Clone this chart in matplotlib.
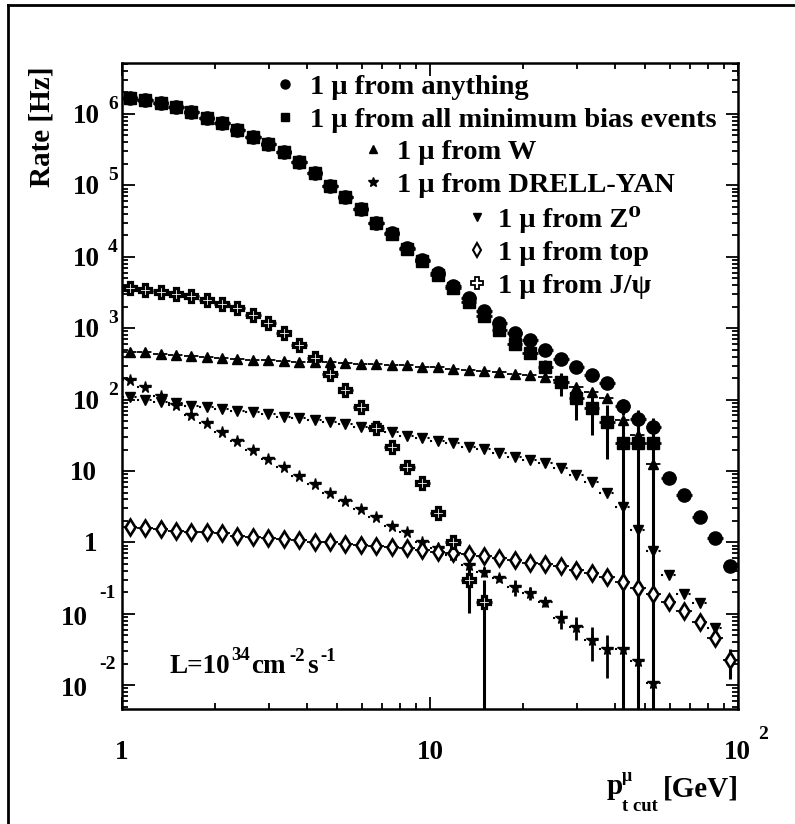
import numpy as np
import matplotlib
matplotlib.use("Agg")
import matplotlib.pyplot as plt
from matplotlib.lines import Line2D
from matplotlib.ticker import FixedLocator, LogLocator, NullFormatter

FIG_W, FIG_H, DPI = 795, 824, 100
SERIF = ["Liberation Serif", "DejaVu Serif"]
plt.rcParams["font.family"] = SERIF
plt.rcParams["font.weight"] = "bold"

# ---------------------------------------------------------------- data
# muon pT threshold bins (20 per decade), bin centres in GeV
pt_centres = [1.059, 1.189, 1.334, 1.496, 1.679, 1.884, 2.113, 2.371, 2.661, 2.985,
              3.350, 3.758, 4.217, 4.732, 5.309, 5.957, 6.683, 7.499, 8.414, 9.441,
              10.59, 11.89, 13.34, 14.96, 16.79, 18.84, 21.13, 23.71, 26.61, 29.85,
              33.50, 37.58, 42.17, 47.32, 53.09, 59.57, 66.83, 74.99, 84.14, 94.41]
BIN_HALF_RATIO = 10 ** 0.025

# integrated single-muon rates [Hz] above the threshold
rate_anything = [1.66e6, 1.58e6, 1.41e6, 1.26e6, 1.05e6, 8.7e5, 7.4e5, 6.0e5, 4.7e5, 3.8e5,
                 2.95e5, 2.14e5, 1.48e5, 9.8e4, 6.8e4, 4.6e4, 3.0e4, 2.14e4, 1.32e4, 9.1e3,
                 5.9e3, 3.9e3, 2.63e3, 1.74e3, 1.17e3, 850, 676, 490, 372, 282,
                 224, 170, 81, 54, 42, 7.9, 4.6, 2.3, 1.15, 0.46]
rate_minbias = [1.66e6, 1.58e6, 1.41e6, 1.26e6, 1.05e6, 8.7e5, 7.4e5, 6.0e5, 4.7e5, 3.8e5,
                2.95e5, 2.14e5, 1.48e5, 9.8e4, 6.8e4, 4.6e4, 2.96e4, 2.10e4, 1.285e4, 8.78e3,
                5.59e3, 3.6e3, 2.35e3, 1.5e3, 940, 610, 445, 288, 174, 105,
                76, 49, 24.5, 24.5, 24.5]
rate_w = [468, 457, 437, 417, 407, 389, 380, 372, 363, 355,
          347, 339, 339, 331, 324, 316, 316, 309, 302, 288,
          282, 269, 257, 251, 240, 229, 219, 209, 186, 151,
          129, 107, 52, 32, 12.6]
rate_drellyan = [190, 151, 112, 83, 60, 46.8, 34.7, 26.3, 20.0, 14.8,
                 11.5, 8.5, 6.5, 4.9, 3.8, 2.9, 2.26, 1.70, 1.38, 1.02,
                 0.83, 0.66, 0.48, 0.39, 0.316, 0.24, 0.195, 0.148, 0.087, 0.066,
                 0.043, 0.032, 0.032, 0.022, 0.0107]
rate_z = [110, 98, 93, 89, 81, 79, 74, 69, 66, 63,
          57.5, 55, 51, 48, 45.7, 41.7, 39.8, 35.5, 30.9, 28.8,
          26.3, 24.5, 21.9, 20.4, 17.8, 15.8, 14.1, 12.9, 11.0, 8.7,
          7.1, 5.0, 3.16, 1.48, 0.76, 0.35, 0.19, 0.141, 0.063]
rate_top = [1.66, 1.58, 1.55, 1.45, 1.41, 1.38, 1.35, 1.23, 1.20, 1.15,
            1.10, 1.07, 1.02, 1.00, 0.955, 0.91, 0.89, 0.87, 0.83, 0.78,
            0.74, 0.71, 0.69, 0.65, 0.60, 0.56, 0.52, 0.50, 0.46, 0.41,
            0.37, 0.33, 0.275, 0.23, 0.19, 0.148, 0.11, 0.076, 0.046, 0.0224]
rate_jpsi = [3630, 3470, 3240, 3020, 2820, 2450, 2190, 1905, 1510, 1200,
             851, 575, 380, 229, 135, 79, 39.8, 21.9, 11.5, 6.8,
             2.57, 1.02, 0.295, 0.148]

# relative statistical uncertainties
relerr_anything = [0.0] * 32 + [0.25, 0.32, 0.32, 0.1, 0.1, 0.1, 0.1, 0.12]
relerr_minbias = [0.0] * 23 + [0.05, 0.08, 0.12, 0.18, 0.25, 0.35, 0.5, 0.58, 0.7, 1.0, 1.0, 1.0]
relerr_w = [0.0] * 28 + [0.05, 0.05, 0.05, 0.06, 0.1, 0.15, 0.3]
relerr_drellyan = [0.0] * 20 + [0.07, 0.08, 0.12, 0.15, 0.13, 0.25, 0.2, 0.17, 0.3, 0.35,
                                0.5, 0.6, 0.6, 0.7, 0.8]
relerr_z = [0.0] * 39
relerr_top = [0.0] * 38 + [0.15, 0.45]
relerr_jpsi = [0.0] * 13 + [0.08, 0.05, 0.05, 0.05, 0.05, 0.05, 0.05, 0.1, 0.2, 0.65, 1.0]

legend_labels = ["1 \u03bc from anything",
                 "1 \u03bc from all minimum bias events",
                 "1 \u03bc from W",
                 "1 \u03bc from DRELL-YAN",
                 "1 \u03bc from Z\u2070",
                 "1 \u03bc from top",
                 "1 \u03bc from J/\u03c8"]

ytick_exponents = [-2, -1, 0, 1, 2, 3, 4, 5, 6]
xtick_values = [1, 10, 100]

# ---------------------------------------------------------------- figure
fig = plt.figure(figsize=(FIG_W / DPI, FIG_H / DPI), dpi=DPI)
fig.patch.set_facecolor("white")


def fx(px):
    return px / FIG_W


def fy(py):
    return 1.0 - py / FIG_H


ax = fig.add_axes([fx(122), fy(709), fx(738) - fx(122), fy(63) - fy(709)])
ax.set_xscale("log")
ax.set_yscale("log")
ax.set_xlim(1, 100)
ax.set_ylim(10 ** -2.333, 10 ** 6.714)

for sp in ax.spines.values():
    sp.set_linewidth(1.8)

ax.xaxis.set_major_locator(FixedLocator(xtick_values))
ax.xaxis.set_minor_locator(LogLocator(base=10, subs=np.arange(2, 10), numticks=20))
ax.yaxis.set_major_locator(FixedLocator([10.0 ** e for e in ytick_exponents]))
ax.yaxis.set_minor_locator(LogLocator(base=10, subs=np.arange(2, 10), numticks=30))
ax.xaxis.set_minor_formatter(NullFormatter())
ax.yaxis.set_minor_formatter(NullFormatter())
ax.tick_params(which="both", direction="in", top=True, right=True,
               labelbottom=False, labelleft=False, width=1.3)
ax.tick_params(which="major", length=9)
ax.tick_params(which="minor", length=4.5)


def draw_series(rates, relerr, marker, ms, mfc="black", mew=1.0,
                xls="solid", xlw=2.0, ylw=2.2, z=3):
    y = np.asarray(rates, dtype=float)
    n = len(y)
    x = np.asarray(pt_centres[:n])
    xlo = x - x / BIN_HALF_RATIO
    xhi = x * BIN_HALF_RATIO - x
    err = np.asarray(relerr, dtype=float) * y
    ylo = np.minimum(err, y - 1e-5)
    cont = ax.errorbar(x, y, xerr=[xlo, xhi], yerr=[ylo, err], fmt=marker, ms=ms,
                       mfc=mfc, mec="black", mew=mew, ecolor="black",
                       elinewidth=ylw, capsize=0, zorder=z)
    bars = cont[2]
    bars[0].set_linestyle(xls)
    bars[0].set_linewidth(xlw)
    bars[1].set_linewidth(ylw)
    return cont


draw_series(rate_anything, relerr_anything, "o", 9.5, z=3)
draw_series(rate_minbias, relerr_minbias, "s", 8.3, z=3.2)
draw_series(rate_w, relerr_w, "^", 7.5, xls=(0, (3, 2)), xlw=1.3, z=3.4)
draw_series(rate_drellyan, relerr_drellyan, "*", 8.5, xls=(0, (1, 2)), xlw=1.5, ylw=2.0, z=3.5)
draw_series(rate_z, relerr_z, "v", 7.5, xls=(0, (1, 2)), xlw=1.5, z=3.6)
draw_series(rate_top, relerr_top, "d", 8.5, mfc="white", mew=1.9, xlw=1.3, z=3.7)
draw_series(rate_jpsi, relerr_jpsi, "P", 9.0, mfc="white", mew=2.3, xlw=2.0, z=3.8)

# ---------------------------------------------------------------- tick labels
TICK_FS = 19.5
EXP_FS = 14
for e in ytick_exponents:
    yv = 10.0 ** e
    kw = dict(xycoords=("axes fraction", "data"), textcoords="offset pixels",
              va="baseline", fontweight="bold")
    if e == 0:
        ax.annotate("1", xy=(0, yv), xytext=(-25, -9), ha="right", fontsize=TICK_FS, **kw)
    elif e == 1:
        ax.annotate("10", xy=(0, yv), xytext=(-25, -9), ha="right", fontsize=TICK_FS, **kw)
    elif e > 1:
        ax.annotate("10", xy=(0, yv), xytext=(-22, -9), ha="right", fontsize=TICK_FS, **kw)
        ax.annotate(str(e), xy=(0, yv), xytext=(-14, 5), ha="left", fontsize=EXP_FS, **kw)
    else:
        ax.annotate("10", xy=(0, yv), xytext=(-34, -11), ha="right", fontsize=TICK_FS, **kw)
        ax.annotate(str(e), xy=(0, yv), xytext=(-23, 16), ha="left", fontsize=EXP_FS, **kw)

for v in xtick_values:
    kw = dict(xycoords=("data", "axes fraction"), textcoords="offset pixels",
              va="baseline", fontweight="bold")
    if v == 100:
        ax.annotate("10", xy=(v, 0), xytext=(-1, -50), ha="center", fontsize=TICK_FS, **kw)
        ax.annotate("2", xy=(v, 0), xytext=(20, -30), ha="left", fontsize=EXP_FS, **kw)
    else:
        ax.annotate(str(v), xy=(v, 0), xytext=(0, -50), ha="center", fontsize=TICK_FS, **kw)

# ---------------------------------------------------------------- axis titles
fig.text(fx(42), fy(127), "Rate [Hz]", rotation=90, ha="center", va="center",
         fontsize=21, fontweight="bold")


def ftext(x, y, s, size, ha="left"):
    fig.text(fx(x), fy(y), s, ha=ha, va="baseline", fontsize=size, fontweight="bold")


ftext(607, 794, "p", 21)
ftext(622, 781, "\u03bc", 13)
ftext(622, 811, "t cut", 13.5)
ftext(663, 796, "[GeV]", 21)

# luminosity note
ftext(170, 673, "L=10", 19.5)
ftext(231, 660, "34", 13.5)
ftext(251, 673, "cm", 19.5)
ftext(289, 661, "-2", 13.5)
ftext(307, 673, "s", 19.5)
ftext(320, 661, "-1", 13.5)

# ---------------------------------------------------------------- legend
handles = [
    Line2D([], [], ls="none", marker="o", ms=6.5, color="black"),
    Line2D([], [], ls="none", marker="s", ms=6, color="black"),
    Line2D([], [], ls="none", marker="^", ms=6, color="black"),
    Line2D([], [], ls="none", marker="*", ms=7, color="black"),
    Line2D([], [], ls="none", marker="v", ms=6, color="black"),
    Line2D([], [], ls="none", marker="d", ms=7, color="black", mfc="white", mew=1.5),
    Line2D([], [], ls="none", marker="P", ms=8, color="black", mfc="white", mew=1.3),
]
LEG_FS = 20.5
HANDLE_LEN = 0.9
hl_px = HANDLE_LEN * LEG_FS * DPI / 72.0


def ax_frac(px, py):
    return (px - 122) / 616.0, (709 - py) / 646.0


groups = [((0, 2), 285, 74, 0.43), ((2, 4), 373, 139, 0.39), ((4, 7), 477, 206, 0.29)]
legs = []
for (i0, i1), mx, top_px, pad in groups:
    bx, by = ax_frac(mx - hl_px / 2, top_px)
    leg = ax.legend(handles[i0:i1], legend_labels[i0:i1], loc="upper left",
                    bbox_to_anchor=(bx, by), frameon=False, borderpad=0,
                    borderaxespad=0, handlelength=HANDLE_LEN, handletextpad=pad,
                    labelspacing=0.25,
                    prop={"family": SERIF, "weight": "bold", "size": LEG_FS})
    legs.append(leg)
for leg in legs[:-1]:
    ax.add_artist(leg)

# outer frame
fig.add_artist(Line2D([fx(8), fx(8)], [0, fy(5)], transform=fig.transFigure,
                      color="black", lw=2.0))
fig.add_artist(Line2D([fx(8), 1], [fy(5), fy(5)], transform=fig.transFigure,
                      color="black", lw=2.0))

fig.savefig("out.png", dpi=DPI, facecolor="white")
